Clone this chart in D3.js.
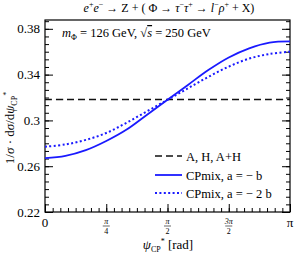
<!DOCTYPE html>
<html>
<head>
<meta charset="utf-8">
<script src="https://cdn.jsdelivr.net/npm/d3@7"></script>
<style>
  body { margin: 0; background: #fff; }
</style>
</head>
<body>
<div id="chart"></div>
<script>
// values, x in units of pi
var psi = [0, 1/12, 2/12, 3/12, 4/12, 5/12, 6/12, 7/12, 8/12, 9/12, 10/12, 11/12, 1];
var flatAH = [0.3183, 0.3183, 0.3183, 0.3183, 0.3183, 0.3183, 0.3183, 0.3183, 0.3183, 0.3183, 0.3183, 0.3183, 0.3183];
var cpMixB = [0.267, 0.269, 0.274, 0.282, 0.292, 0.305, 0.318, 0.331, 0.344, 0.355, 0.363, 0.368, 0.369];
var cpMix2B = [0.277, 0.279, 0.283, 0.289, 0.298, 0.308, 0.318, 0.328, 0.338, 0.347, 0.354, 0.358, 0.360];
var yTicks = [0.22, 0.26, 0.30, 0.34, 0.38];
var yTickLabels = ["0.22", "0.26", "0.3", "0.34", "0.38"];
var xTicks = [0, 0.25, 0.5, 0.75, 1];
var xTickLabels = [["0"], ["π", "4"], ["π", "2"], ["3π", "2"], ["π"]];
var legendNames = ["A, H, A+H", "CPmix, a = − b", "CPmix, a = − 2 b"];

var FONT = '"Liberation Serif", "Times New Roman", "DejaVu Serif", serif';
var W = 300, H = 254;
var margin = { top: 20, right: 10, bottom: 42, left: 45 };
var width = W - margin.left - margin.right,
    height = H - margin.top - margin.bottom;

var svg = d3.select("#chart").append("svg").attr("width", W).attr("height", H)
    .attr("font-family", FONT);
var g = svg.append("g").attr("transform", "translate(" + margin.left + "," + margin.top + ")");

var x = d3.scaleLinear().domain([0, 1]).range([0, width]);
var y = d3.scaleLinear().domain([0.22, 0.3877]).range([height, 0]);

// minor ticks
var yMinor = d3.range(0.22, 0.3877, 0.04 / 6);
var xMinor = d3.range(0, 1.0001, 1 / 32);

// left axis
g.append("g").call(d3.axisRight(y).tickValues(yMinor).tickSize(4).tickFormat(""))
    .call(a => a.select(".domain").remove());
g.append("g").call(d3.axisRight(y).tickValues(yTicks).tickSize(8).tickFormat(""))
    .call(a => a.select(".domain").remove());
// right axis
g.append("g").attr("transform", "translate(" + width + ",0)")
    .call(d3.axisLeft(y).tickValues(yMinor).tickSize(4).tickFormat(""))
    .call(a => a.select(".domain").remove());
g.append("g").attr("transform", "translate(" + width + ",0)")
    .call(d3.axisLeft(y).tickValues(yTicks).tickSize(8).tickFormat(""))
    .call(a => a.select(".domain").remove());
// bottom axis
g.append("g").attr("transform", "translate(0," + height + ")")
    .call(d3.axisTop(x).tickValues(xMinor).tickSize(4).tickFormat(""))
    .call(a => a.select(".domain").remove());
g.append("g").attr("transform", "translate(0," + height + ")")
    .call(d3.axisTop(x).tickValues(xTicks).tickSize(8).tickFormat(""))
    .call(a => a.select(".domain").remove());

g.selectAll(".tick line").attr("stroke", "#000").attr("stroke-width", 1);

// frame
g.append("rect").attr("width", width).attr("height", height)
    .attr("fill", "none").attr("stroke", "#000").attr("stroke-width", 1.2);

// y tick labels
g.selectAll(".ylab").data(yTicks).enter().append("text")
    .attr("x", -5).attr("y", d => y(d) + 4.5)
    .attr("text-anchor", "end").style("font-size", "13px")
    .text((d, i) => yTickLabels[i]);

// x tick labels (fractions)
xTicks.forEach(function (t, i) {
    var lab = xTickLabels[i];
    if (lab.length == 1) {
        g.append("text").attr("x", x(t)).attr("y", height + 15)
            .attr("text-anchor", "middle").style("font-size", "13px").text(lab[0]);
    } else {
        g.append("text").attr("x", x(t)).attr("y", height + 12)
            .attr("text-anchor", "middle").style("font-size", "8px").style("font-style", "italic").text(lab[0]);
        g.append("line").attr("x1", x(t) - 3.5).attr("x2", x(t) + 3.5)
            .attr("y1", height + 14).attr("y2", height + 14).attr("stroke", "#000").attr("stroke-width", 0.6);
        g.append("text").attr("x", x(t)).attr("y", height + 22)
            .attr("text-anchor", "middle").style("font-size", "8px").text(lab[1]);
    }
});

// curves
var line = function (vals) {
    return d3.line().curve(d3.curveCatmullRom)
        .x((d, i) => x(psi[i])).y(d => y(d))(vals);
};
g.append("path").attr("d", line(flatAH)).attr("fill", "none")
    .attr("stroke", "#111").attr("stroke-width", 1.6).attr("stroke-dasharray", "7,4");
g.append("path").attr("d", line(cpMix2B)).attr("fill", "none")
    .attr("stroke", "#1a1aff").attr("stroke-width", 2).attr("stroke-dasharray", "2,2.4");
g.append("path").attr("d", line(cpMixB)).attr("fill", "none")
    .attr("stroke", "#1a1aff").attr("stroke-width", 1.8);

// legend
var legStyles = [
    { stroke: "#111", dash: "7,4", w: 1.6 },
    { stroke: "#1a1aff", dash: null, w: 1.8 },
    { stroke: "#1a1aff", dash: "2,2.4", w: 2 }
];
var legY = [136, 155, 173];
legendNames.forEach(function (n, i) {
    g.append("line").attr("x1", 110).attr("x2", 137).attr("y1", legY[i]).attr("y2", legY[i])
        .attr("stroke", legStyles[i].stroke).attr("stroke-width", legStyles[i].w)
        .attr("stroke-dasharray", legStyles[i].dash);
    g.append("text").attr("x", 141).attr("y", legY[i] + 4.5).style("font-size", "12.5px").text(n);
});

// annotation
var ann = g.append("text").attr("x", 17).attr("y", 17).style("font-size", "12.5px");
ann.append("tspan").style("font-style", "italic").text("m");
ann.append("tspan").attr("dy", 3).style("font-size", "8px").text("Φ");
ann.append("tspan").attr("dy", -3).text(" = 126 GeV, ");
ann.append("tspan").text("√");
ann.append("tspan").style("font-style", "italic").style("text-decoration", "overline").text("s");
ann.append("tspan").text(" = 250 GeV");

// title
var title = svg.append("text").attr("x", 169).attr("y", 12).attr("text-anchor", "middle").style("font-size", "12px");
title.append("tspan").style("font-style", "italic").text("e");
title.append("tspan").attr("dy", -5).style("font-size", "8px").text("+");
title.append("tspan").attr("dy", 5).style("font-style", "italic").text("e");
title.append("tspan").attr("dy", -5).style("font-size", "8px").text("−");
title.append("tspan").attr("dy", 5).text(" → Z + ( Φ → ");
title.append("tspan").style("font-style", "italic").text("τ");
title.append("tspan").attr("dy", -5).style("font-size", "8px").text("−");
title.append("tspan").attr("dy", 5).style("font-style", "italic").text("τ");
title.append("tspan").attr("dy", -5).style("font-size", "8px").text("+");
title.append("tspan").attr("dy", 5).text(" → ");
title.append("tspan").style("font-style", "italic").text("l");
title.append("tspan").attr("dy", -5).style("font-size", "8px").text("−");
title.append("tspan").attr("dy", 5).style("font-style", "italic").text("ρ");
title.append("tspan").attr("dy", -5).style("font-size", "8px").text("+");
title.append("tspan").attr("dy", 5).text(" + X)");

// x label
var xl = svg.append("text").attr("x", 168).attr("y", 249).attr("text-anchor", "middle").style("font-size", "13px");
xl.append("tspan").style("font-style", "italic").text("ψ");
xl.append("tspan").attr("dy", 3).style("font-size", "8px").text("CP");
xl.append("tspan").attr("dy", -8).style("font-size", "8px").text("*");
xl.append("tspan").attr("dy", 5).text(" [rad]");

// y label
var yl = svg.append("text").attr("transform", "translate(14,128) rotate(-90)")
    .attr("text-anchor", "middle").style("font-size", "13px");
yl.append("tspan").text("1/");
yl.append("tspan").style("font-style", "italic").text("σ");
yl.append("tspan").text(" · d");
yl.append("tspan").style("font-style", "italic").text("σ");
yl.append("tspan").text("/d");
yl.append("tspan").style("font-style", "italic").text("ψ");
yl.append("tspan").attr("dy", 3).style("font-size", "8px").text("CP");
yl.append("tspan").attr("dy", -8).style("font-size", "8px").text("*");
</script>
</body>
</html>
